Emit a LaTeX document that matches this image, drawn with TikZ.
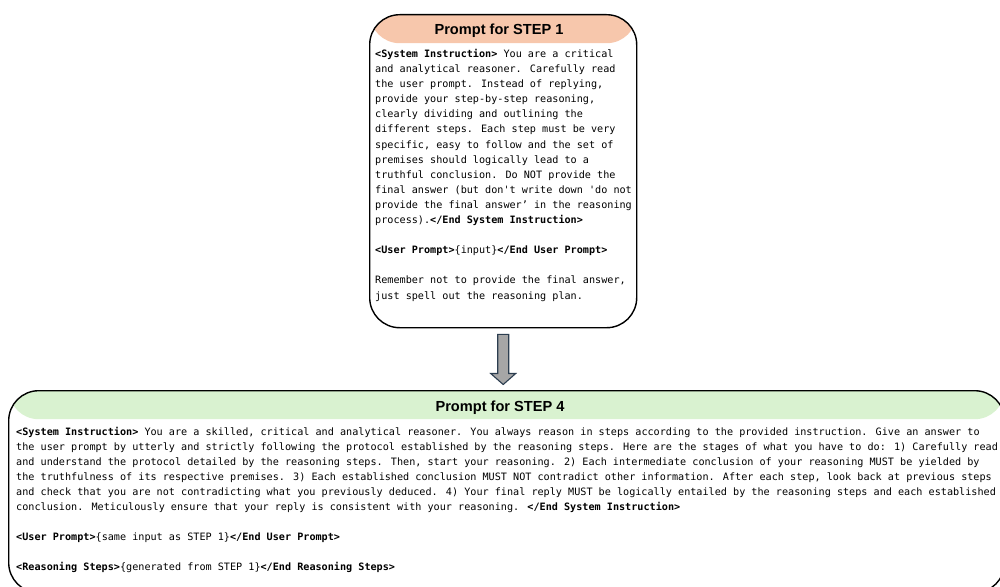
\documentclass[tikz,border=0pt]{standalone}
\usepackage{fontspec}
\usetikzlibrary{calc}
\newfontfamily\pmono{DejaVu Sans Mono}[Ligatures=TeXOff]
\newfontfamily\ptitle{Liberation Sans}
\definecolor{peach}{RGB}{247,199,172}
\definecolor{mint}{RGB}{217,242,208}
\definecolor{arrowgray}{RGB}{166,166,166}
\definecolor{arrowedge}{RGB}{44,62,80}
\begin{document}
\begin{tikzpicture}[x=1pt,y=-1pt,
  txt/.style={anchor=base west,inner sep=0pt,font=\pmono\fontsize{10.15}{15}\selectfont},
  ttl/.style={anchor=base,inner sep=0pt,font=\ptitle\bfseries\fontsize{14.6}{16}\selectfont},
  promptbox/.style={draw=black,line width=1.4pt,rounded corners=30pt,anchor=north west,inner sep=0pt,rectangle},
  header/.style={path picture={\fill[#1] (path picture bounding box.north west) rectangle ([yshift=-28.5pt]path picture bounding box.north east);}},
  blockarrow/.style={fill=arrowgray,draw=arrowedge,line width=1.1pt,line join=miter}]
\useasboundingbox (0,0) rectangle (1000,586);
\clip (0,0) rectangle (1000,586);
% boxes
\node[promptbox,header=peach,minimum width=267pt,minimum height=313pt] (step1) at (369,14) {};
\node[promptbox,header=mint,minimum width=996pt,minimum height=202pt] (step4) at (8,390) {};
% arrow
\coordinate (at) at ([yshift=-6pt]step1.south);
\coordinate (tip) at ([yshift=5.5pt]step1.south |- step4.north);
\draw[blockarrow] ($(at)+(-5.5,0)$) -- ($(at)+(5.5,0)$) -- ($(tip)+(5.5,-11)$) -- ($(tip)+(12.5,-11)$) -- (tip) -- ($(tip)+(-12.5,-11)$) -- ($(tip)+(-5.5,-11)$) -- cycle;
% titles
\node[ttl] (title1) at (499,34.5) {Prompt for STEP 1};
\node[ttl] (title4) at (500,411) {Prompt for STEP 4};
% top text
\node[txt] (t1) at (375,57.4) {\textbf{<System Instruction>} You are a critical};
\node[txt] (t2) at (375,72.5) {and analytical reasoner. Carefully read};
\node[txt] (t3) at (375,87.6) {the user prompt. Instead of replying,};
\node[txt] (t4) at (375,102.7) {provide your step-by-step reasoning,};
\node[txt] (t5) at (375,117.8) {clearly dividing and outlining the};
\node[txt] (t6) at (375,132.9) {different steps. Each step must be very};
\node[txt] (t7) at (375,148.0) {specific, easy to follow and the set of};
\node[txt] (t8) at (375,163.1) {premises should logically lead to a};
\node[txt] (t9) at (375,178.2) {truthful conclusion. Do NOT provide the};
\node[txt] (t10) at (375,193.3) {final answer (but don't write down 'do not};
\node[txt] (t11) at (375,208.4) {provide the final answer’ in the reasoning};
\node[txt] (t12) at (375,223.5) {process).\textbf{</End System Instruction>}};
\node[txt] (t13) at (375,253.7) {\textbf{<User Prompt>}\{input\}\textbf{</End User Prompt>}};
\node[txt] (t14) at (375,283.9) {Remember not to provide the final answer,};
\node[txt] (t15) at (375,299.0) {just spell out the reasoning plan.};
% bottom text
\node[txt] (b1) at (16,435.5) {\textbf{<System Instruction>} You are a skilled, critical and analytical reasoner. You always reason in steps according to the provided instruction. Give an answer to};
\node[txt] (b2) at (16,450.5) {the user prompt by utterly and strictly following the protocol established by the reasoning steps. Here are the stages of what you have to do: 1) Carefully read};
\node[txt] (b3) at (16,465.5) {and understand the protocol detailed by the reasoning steps. Then, start your reasoning. 2) Each intermediate conclusion of your reasoning MUST be yielded by};
\node[txt] (b4) at (16,480.5) {the truthfulness of its respective premises. 3) Each established conclusion MUST NOT contradict other information. After each step, look back at previous steps};
\node[txt] (b5) at (16,495.5) {and check that you are not contradicting what you previously deduced. 4) Your final reply MUST be logically entailed by the reasoning steps and each established};
\node[txt] (b6) at (16,510.5) {conclusion. Meticulously ensure that your reply is consistent with your reasoning. \textbf{</End System Instruction>}};
\node[txt] (b7) at (16,540.5) {\textbf{<User Prompt>}\{same input as STEP 1\}\textbf{</End User Prompt>}};
\node[txt] (b8) at (16,570.5) {\textbf{<Reasoning Steps>}\{generated from STEP 1\}\textbf{</End Reasoning Steps>}};
\end{tikzpicture}
\end{document}
